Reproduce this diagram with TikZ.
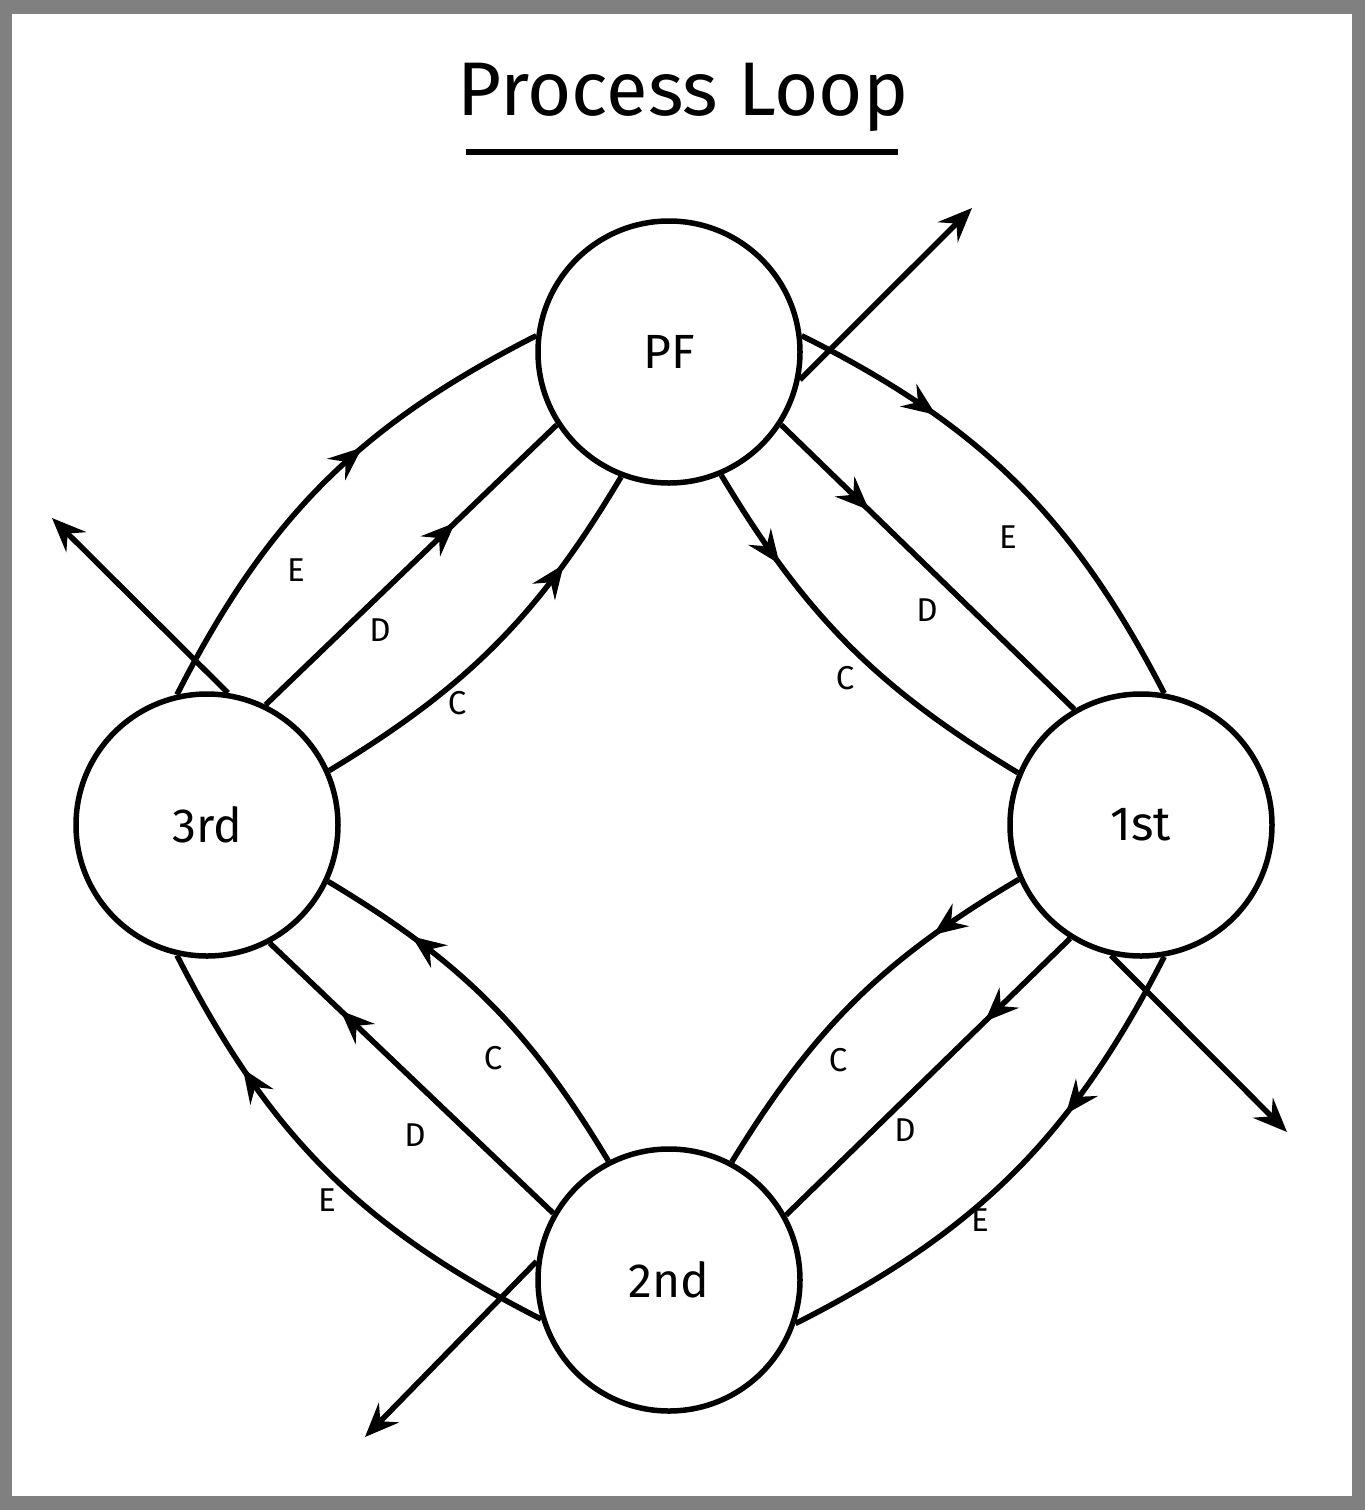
\documentclass[tikz,border=0pt]{standalone}
\usepackage{fontspec}
\setmainfont{Fira Sans}
\usetikzlibrary{arrows.meta,decorations.markings}
\begin{document}
\begin{tikzpicture}[x=1pt,y=-1pt,line width=5.5pt,
  st/.style={circle,draw,line width=5.5pt,minimum size=262pt,inner sep=0pt,font=\fontsize{48}{52}\selectfont},
  mid/.style={postaction={decorate},decoration={markings,mark=at position #1 with {\arrow[line width=3pt]{Stealth[length=34pt,width=28pt,inset=12pt]}}}},
  lab/.style={font=\fontsize{33}{36}\selectfont},
  longarrow/.style={-{Stealth[length=34pt,width=28pt,inset=12pt]}}]
\fill[gray] (0,0) rectangle (1365,1510);
\fill[white] (12,14) rectangle (1352,1496);
\useasboundingbox (0,0) rectangle (1365,1510);
\node[font=\fontsize{76}{84}\selectfont] (title) at (683,97) {Process Loop};
\draw[line width=6.5pt] (466,152) coordinate (u1) -- (898,152) coordinate (u2);
\node[st] (pf) at (669,352) {PF};
\node[st] (third) at (207,825) {3rd};
\node[st] (first) at (1141,825) {1st};
\node[st] (second) at (669,1280) {2nd};
% PF -> 1st
\draw[mid=0.3] (pf.7) to[bend left=18] (first.80);
\draw[mid=0.3] (pf.-33) -- (first.120);
\draw[mid=0.25] (pf.-67) to[bend right=14] (first.157);
% 1st -> 2nd
\draw[mid=0.35] (first.280) to[bend left=18] (second.-19);
\draw[mid=0.3] (first.238) -- (second.29);
\draw[mid=0.25] (first.204) to[bend right=14] (second.62);
% 2nd -> 3rd
\draw[mid=0.75] (second.197) to[bend left=18] (third.257);
\draw[mid=0.75] (second.150) -- (third.298);
\draw[mid=0.75] (second.117) to[bend right=14] (third.335);
% 3rd -> PF
\draw[mid=0.6] (third.103) to[bend left=18] (pf.173);
\draw[mid=0.65] (third.64) -- (pf.213);
\draw[mid=0.75] (third.24) to[bend right=14] (pf.249);
% long arrows
\coordinate (a1) at (972,208);
\coordinate (a2) at (52,518);
\coordinate (a3) at (1287,1132);
\coordinate (a4) at (365,1437);
\draw[longarrow] (pf.-12) -- (a1);
\draw[longarrow] (third.81) -- (a2);
\draw[longarrow] (first.257) -- (a3);
\draw[longarrow] (second.172) -- (a4);
% labels
\node[lab] (l1) at (1008,537) {E};
\node[lab] (l2) at (927,610) {D};
\node[lab] (l3) at (845,678) {C};
\node[lab] (l4) at (296,570) {E};
\node[lab] (l5) at (380,630) {D};
\node[lab] (l6) at (457,703) {C};
\node[lab] (l7) at (980,1220) {E};
\node[lab] (l8) at (905,1130) {D};
\node[lab] (l9) at (838,1060) {C};
\node[lab] (l10) at (327,1200) {E};
\node[lab] (l11) at (415,1135) {D};
\node[lab] (l12) at (493,1058) {C};
\end{tikzpicture}
\end{document}
